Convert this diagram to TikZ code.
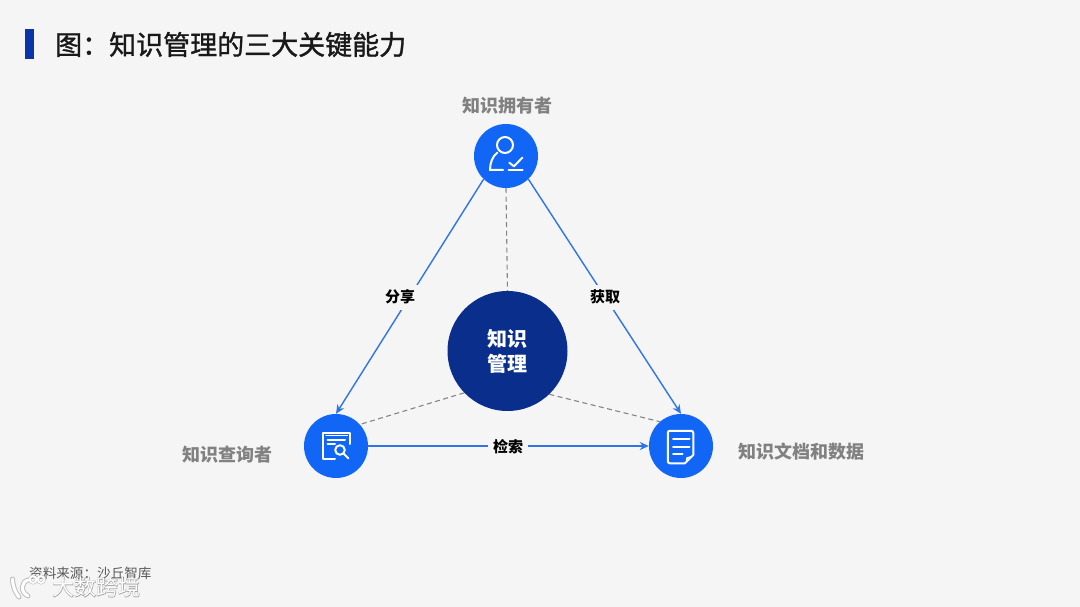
\documentclass[tikz,border=0pt]{standalone}
\usepackage{fontspec}
\setmainfont{Noto Sans CJK SC}
\newfontfamily\cjkheavy[FakeBold=4]{Noto Sans CJK SC}
\usetikzlibrary{arrows.meta}
\definecolor{pagebg}{HTML}{F5F5F5}
\definecolor{hubblue}{HTML}{1166F6}
\definecolor{corenavy}{HTML}{0A2E8C}
\definecolor{barblue}{HTML}{0B35A6}
\definecolor{labelgray}{HTML}{818181}
\definecolor{sourcegray}{HTML}{5A5A5A}
\definecolor{dashgray}{HTML}{858585}
\definecolor{linkblue}{HTML}{2F74E6}
\tikzset{
  hub/.style={circle,fill=hubblue,minimum size=64pt,inner sep=0pt},
  core/.style={circle,fill=corenavy,minimum size=120pt,inner sep=0pt,text=white,align=center,font=\fontsize{20}{25}\selectfont\bfseries},
  rolelabel/.style={text=labelgray,font=\fontsize{18}{18}\selectfont\bfseries,inner sep=0pt},
  linklabel/.style={fill=pagebg,text=black,font=\fontsize{15}{15}\selectfont\bfseries,minimum width=40pt,minimum height=25pt,inner sep=0pt},
  flow/.style={linkblue,line width=1.4pt,-{Stealth[length=9pt,width=8pt]}},
  tie/.style={dashgray,line width=1.1pt,dash pattern=on 5pt off 3.5pt},
  icon/.style={white,line width=2pt,line cap=round,line join=round}
}
\begin{document}
\begin{tikzpicture}[x=1pt,y=-1pt]
\useasboundingbox (0,0) rectangle (1080,607);
\fill[pagebg] (0,0) rectangle (1080,607);
\fill[barblue] (25,29) rectangle (33.5,59);
\node[anchor=west,inner sep=0pt,text=black!90] (title) at (55,44.5) {\fontsize{27}{27}\selectfont\addfontfeature{FakeBold=1.2}图：知识管理的三大关键能力};

\node[hub] (owner) at (506,156) {};
\node[hub] (seeker) at (336,446) {};
\node[hub] (docs) at (681,446) {};
\node[core] (center) at (507.5,351) {知识\\管理};

\draw[flow] (owner.226) -- (seeker.90);
\draw[flow] (owner.-46) -- (docs.90);
\draw[flow] (seeker.0) -- (docs.180);
\draw[tie] (owner.270) -- (center.90);
\draw[tie] (center.224) -- (seeker.42);
\draw[tie] (center.-46) -- (docs.131);

\node[linklabel] (share) at (400,297) {分享};
\node[linklabel] (acquire) at (605,297) {获取};
\node[linklabel] (search) at (508,447) {检索};

\node[rolelabel] (ownerlabel) at (507,105.5) {知识拥有者};
\node[rolelabel] (seekerlabel) at (227.5,454.5) {知识查询者};
\node[rolelabel] (docslabel) at (801,451.5) {知识文档和数据};

% owner icon
\draw[icon] (505,145) circle (8);
\draw[icon] (497.5,152.5) .. controls (492.5,156) and (490,163) .. (490,170) -- (503,170);
\draw[icon] (509.3,162.7) -- (514,166.3) -- (522.3,157.7);
\draw[icon] (508.5,170) -- (522.7,170);

% seeker icon
\draw[icon] (350,444) -- (350,432.6) -- (322.8,432.6) -- (322.8,459.3) -- (335,459.3);
\draw[icon,line width=1.2pt] (326,435.6) -- (347.5,435.6);
\draw[icon] (327.5,439.5) -- (345,439.5);
\draw[icon] (327.5,444) -- (335,444);
\draw[icon] (340,450) circle (4.8);
\draw[icon] (343.7,453.7) -- (348.3,458.3);

% docs icon
\draw[icon] (693.3,455) -- (693.3,433) .. controls (693.3,431.5) and (692.5,430.8) .. (691,430.8)
  -- (670,430.8) .. controls (668.5,430.8) and (667.8,431.5) .. (667.8,433)
  -- (667.8,461) .. controls (667.8,462.5) and (668.5,463.3) .. (670,463.3)
  -- (685,463.3) -- cycle;
\draw[icon] (673,439) -- (689.5,439);
\draw[icon] (673,446.7) -- (689.5,446.7);
\draw[icon] (673,454.3) -- (682.5,454.3);
\draw[icon,line width=1.5pt] (686.5,461.5) -- (687,458) -- (692,456.5);

\node[anchor=west,inner sep=0pt,text=sourcegray] (source) at (29,573) {\fontsize{13.6}{14}\selectfont 资料来源：沙丘智库};

% watermark
\begin{scope}[line cap=round]
\foreach \w/\c in {5/black!25,3/white}{
  \draw[\c,line width=\w pt] (12.5,579) .. controls (13,587) and (15,592) .. (19,597);
  \draw[\c,line width=\w pt] (28,580) .. controls (21,582) and (20,592) .. (28,596);
  \draw[\c,line width=\w*0.6 pt] (33,579.5) circle (3.4);
  \draw[\c,line width=\w*0.6 pt] (41,579.5) circle (3.4);
}
\end{scope}
\node[anchor=west,inner sep=0pt,text=black,opacity=0.25] (markglow) at (52,587) {\fontsize{22}{22}\selectfont\cjkheavy 大数跨境};
\node[anchor=west,inner sep=0pt,text=white] (mark) at (52,587) {\fontsize{22}{22}\selectfont 大数跨境};
\end{tikzpicture}
\end{document}
